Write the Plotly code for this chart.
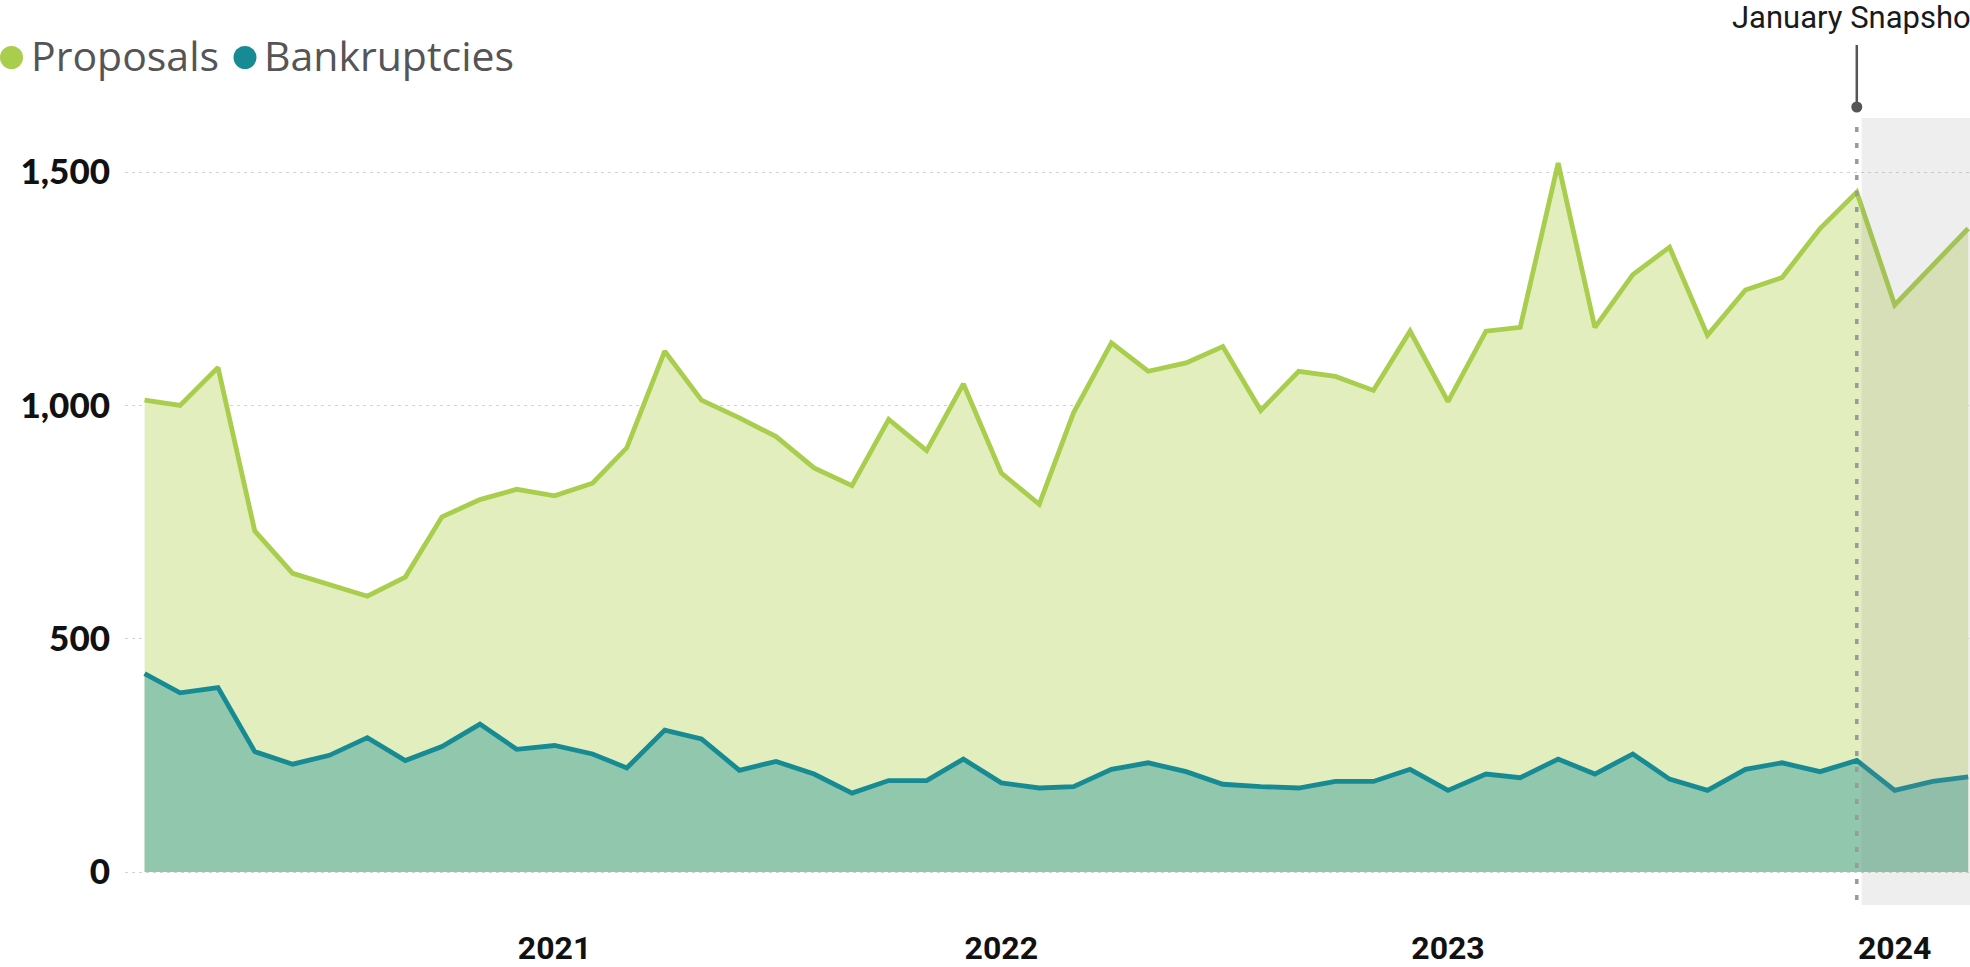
import plotly.graph_objects as go

# ---------------- data ----------------
months = [
    "2020-02-01", "2020-03-01", "2020-04-01", "2020-05-01", "2020-06-01", "2020-07-01",
    "2020-08-01", "2020-09-01", "2020-10-01", "2020-11-01", "2020-12-01",
    "2021-01-01", "2021-02-01", "2021-03-01", "2021-04-01", "2021-05-01", "2021-06-01",
    "2021-07-01", "2021-08-01", "2021-09-01", "2021-10-01", "2021-11-01", "2021-12-01",
    "2022-01-01", "2022-02-01", "2022-03-01", "2022-04-01", "2022-05-01", "2022-06-01",
    "2022-07-01", "2022-08-01", "2022-09-01", "2022-10-01", "2022-11-01", "2022-12-01",
    "2023-01-01", "2023-02-01", "2023-03-01", "2023-04-01", "2023-05-01", "2023-06-01",
    "2023-07-01", "2023-08-01", "2023-09-01", "2023-10-01", "2023-11-01", "2023-12-01",
    "2024-01-01", "2024-02-01", "2024-03-01",
]

proposals = [
    1011, 1000, 1081, 731, 640, 616, 591, 632, 761, 798, 820,
    806, 833, 909, 1116, 1011, 973, 933, 866, 828, 970, 903, 1046,
    855, 788, 984, 1134, 1073, 1091, 1126, 989, 1073, 1062, 1032, 1159,
    1008, 1159, 1167, 1519, 1167, 1280, 1339, 1150, 1247, 1274, 1379, 1457,
    1215, 1301, 1379,
]

bankruptcies = [
    425, 384, 395, 258, 231, 250, 288, 239, 269, 317, 263,
    271, 253, 223, 304, 285, 218, 237, 210, 169, 196, 196, 242,
    191, 180, 183, 220, 234, 215, 188, 183, 180, 194, 194, 220,
    175, 210, 202, 242, 210, 253, 199, 175, 220, 234, 215, 239,
    175, 194, 204,
]

series_names = ["Proposals", "Bankruptcies"]
year_ticks = ["2021-01-01", "2022-01-01", "2023-01-01", "2024-01-01"]
year_labels = ["2021", "2022", "2023", "2024"]
y_ticks = [0, 500, 1000, 1500]

snapshot_date = "2023-12-01"
snapshot_label = "January Snapshot"
shade_start = "2023-12-05"

# ---------------- style ----------------
W, H = 1970, 967
L, R, T, B = 125, 0, 118, 62
PW, PH = W - L - R, H - T - B

PROP_LINE = "#a9cd4c"
PROP_FILL = "#e3eebf"
BANK_LINE = "#178b94"
BANK_FILL = "#91c7ad"


def px_x(px):
    return (px - L) / PW


def px_y(py):
    return (H - B - py) / PH


fig = go.Figure()

fig.add_trace(go.Scatter(
    x=months, y=proposals, name=series_names[0], mode="lines",
    line=dict(color=PROP_LINE, width=4.8), fill="tozeroy", fillcolor=PROP_FILL,
    showlegend=False,
))
fig.add_trace(go.Scatter(
    x=months, y=bankruptcies, name=series_names[1], mode="lines",
    line=dict(color=BANK_LINE, width=4.8), fill="tozeroy", fillcolor=BANK_FILL,
    showlegend=False,
))

shapes = []
# shaded snapshot region
shapes.append(dict(
    type="rect", xref="x", yref="paper", x0=shade_start, x1="2024-06-01", y0=0, y1=1,
    fillcolor="rgba(140,140,140,0.15)", line=dict(width=0), layer="above",
))
# dotted snapshot line
shapes.append(dict(
    type="line", xref="x", yref="paper", x0=snapshot_date, x1=snapshot_date,
    y0=px_y(900), y1=px_y(116),
    line=dict(color="#9a9a9a", width=3.5, dash="5px,11px"), layer="above",
))
# solid connector for label
shapes.append(dict(
    type="line", xref="x", yref="paper", x0=snapshot_date, x1=snapshot_date,
    y0=px_y(107), y1=px_y(45),
    line=dict(color="#555555", width=2.5), layer="above",
))
shapes.append(dict(
    type="circle", xref="x", yref="paper", xsizemode="pixel", ysizemode="pixel",
    xanchor=snapshot_date, yanchor=px_y(107), x0=-5.5, x1=5.5, y0=-5.5, y1=5.5,
    fillcolor="#555555", line=dict(width=0), layer="above",
))
# legend dots
for cx, col in [(11.5, PROP_LINE), (245, BANK_LINE)]:
    shapes.append(dict(
        type="circle", xref="paper", yref="paper", xsizemode="pixel", ysizemode="pixel",
        xanchor=px_x(cx), yanchor=px_y(57.5), x0=-11.5, x1=11.5, y0=-11.5, y1=11.5,
        fillcolor=col, line=dict(width=0),
    ))

annotations = [
    dict(text=snapshot_label, xref="x", yref="paper", x=snapshot_date, y=px_y(18),
         xanchor="center", yanchor="middle", showarrow=False,
         font=dict(family="Roboto, Arial, sans-serif", size=31, color="#1a1a1a")),
    dict(text=series_names[0], xref="paper", yref="paper", x=px_x(29), y=px_y(55),
         xanchor="left", yanchor="middle", showarrow=False,
         font=dict(family="Open Sans, Noto Sans, sans-serif", size=41, color="#555555")),
    dict(text=series_names[1], xref="paper", yref="paper", x=px_x(262), y=px_y(55),
         xanchor="left", yanchor="middle", showarrow=False,
         font=dict(family="Open Sans, Noto Sans, sans-serif", size=41, color="#555555")),
]

y0_val = -(905 - 872) / (700 / 1500)
y1_val = (872 - 118) / (700 / 1500)

fig.update_layout(
    width=W, height=H,
    margin=dict(l=L, r=R, t=T, b=B),
    paper_bgcolor="white", plot_bgcolor="white",
    shapes=shapes, annotations=annotations,
    showlegend=False,
    xaxis=dict(
        type="date", range=["2020-01-16", "2024-03-02 12:00"],
        tickmode="array", tickvals=year_ticks, ticktext=year_labels,
        showgrid=False, zeroline=False, showline=False, ticks="",
        tickfont=dict(family="Roboto, Arial, sans-serif", size=32, color="#111111", weight="bold"),
        ticklabelstandoff=21, automargin=False,
    ),
    yaxis=dict(
        range=[y0_val, y1_val],
        tickmode="array", tickvals=y_ticks, tickformat=",",
        showgrid=True, gridcolor="#d2d2d2", gridwidth=1, griddash="3px,4px",
        zeroline=False, showline=False, ticks="",
        tickfont=dict(family="Lato, Roboto, Arial, sans-serif", size=35, color="#111111", weight=900),
        ticklabelstandoff=14, automargin=False,
    ),
)

fig.write_html(
    "out.html",
    config={"displayModeBar": False},
    post_script="document.body.style.margin='0';document.body.style.overflow='hidden';",
)
